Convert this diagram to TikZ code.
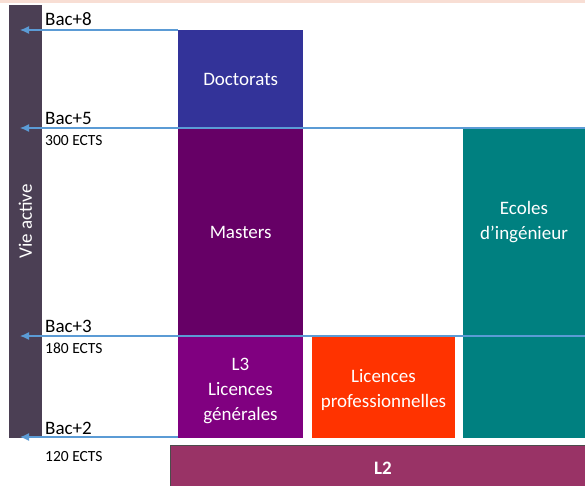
\documentclass[tikz,border=0pt]{standalone}
\usepackage{fontspec}
\setmainfont{Carlito}
\usetikzlibrary{arrows.meta,positioning}
\definecolor{vieviolet}{RGB}{75,63,84}
\definecolor{docblue}{RGB}{51,51,153}
\definecolor{masterplum}{RGB}{102,0,102}
\definecolor{licpurple}{RGB}{128,0,128}
\definecolor{proorange}{RGB}{255,51,0}
\definecolor{ecoleteal}{RGB}{0,128,128}
\definecolor{ltwo}{RGB}{153,51,102}
\definecolor{lineblue}{RGB}{91,155,213}
\definecolor{peach}{RGB}{248,222,212}

\begin{document}
\begin{tikzpicture}[
    x=1pt, y=-1pt,
    box/.style={draw=none, text=white, align=center, anchor=north west, inner sep=0pt, font=\fontsize{19}{25}\selectfont},
    boxtext/.style={draw=none, text=white, align=center, inner sep=0pt, font=\fontsize{19}{25}\selectfont},
    level/.style={anchor=west, inner sep=0pt, font=\fontsize{19}{22}\selectfont},
    ects/.style={anchor=west, inner sep=0pt, font=\fontsize{15.5}{18}\selectfont},
    bacline/.style={draw=lineblue, line width=1.2pt, -{Latex[length=9pt,width=8pt]}}
]
\useasboundingbox (0,0) rectangle (585,486);

% Top band
\fill[peach] (0,0) rectangle (585,3);

% Vie active
\node[fill=vieviolet, rotate=90, minimum width=433pt, minimum height=33pt, inner sep=0pt, text=white, font=\fontsize{19}{22}\selectfont] (vie) at (25.5,221.5) {Vie active};

% Doctorats
\node[box, fill=docblue, minimum width=125pt, minimum height=98pt] (doc) at (178,30) {Doctorats};

% Masters
\node[box, fill=masterplum, minimum width=125pt, minimum height=208pt] (masters) at (178,128) {Masters};

% L3
\node[box, fill=licpurple, minimum width=125pt, minimum height=102pt] (lthree) at (178,336) {};
\node[boxtext] (lthreetext) at (240.5,391) {L3\\Licences\\générales};

% Licences pro
\node[box, fill=proorange, minimum width=143pt, minimum height=102pt] (lpro) at (312,336) {};
\node[boxtext] (lprotext) at (383.5,390) {Licences\\professionnelles};

% Ecoles
\node[box, fill=ecoleteal, minimum width=122pt, minimum height=310pt] (ecoles) at (463,128) {};
\node[boxtext] (ecolestext) at (524,222) {Ecoles\\d'ingénieur};

% L2
\node[box, fill=ltwo, draw=black!70, line width=1pt, minimum width=425pt, minimum height=50pt, font=\fontsize{19}{22}\selectfont\bfseries] (ltwo) at (170,445) {\raisebox{4pt}{L2}};

% Tips
\coordinate (tip8) at (20,30);
\coordinate (tip5) at (20,128);
\coordinate (tip3) at (20,336);
\coordinate (tip2) at (20,437);

% Level lines
\draw[bacline] (doc.north west) -- (tip8);
\draw[bacline] (ecoles.north east) -- (tip5);
\draw[bacline] (lthree.north -| ecoles.east) -- (tip3);
\draw[bacline] (lthree.south west |- tip2) -- (tip2);

% Labels
\node[level] (bac8) at (45,19) {Bac+8};
\node[level] (bac5) at (45,118) {Bac+5};
\node[ects] (ects5) at (45,141) {300 ECTS};
\node[level] (bac3) at (45,326) {Bac+3};
\node[ects] (ects3) at (45,348) {180 ECTS};
\node[level] (bac2) at (45,428) {Bac+2};
\node[ects] (ects2) at (45,457) {120 ECTS};

\end{tikzpicture}
\end{document}
